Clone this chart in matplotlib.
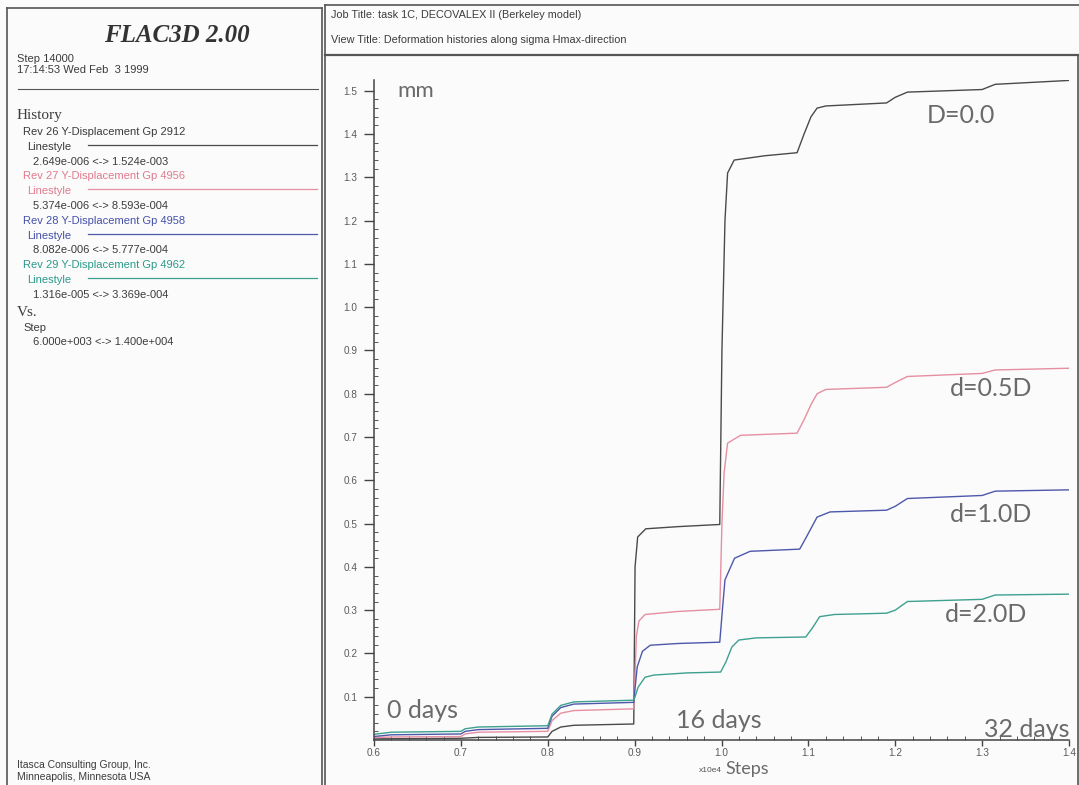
import matplotlib
matplotlib.use("Agg")
import matplotlib.pyplot as plt
from matplotlib.lines import Line2D
import numpy as np

W, H = 1079, 785

# ---------------- data (x in 1e4 steps, y in mm) ----------------
x_d00 = [0.60, 0.70, 0.72, 0.80, 0.805, 0.815, 0.83, 0.899, 0.9005, 0.9035, 0.9128, 0.95, 0.998,
         1.0005, 1.004, 1.007, 1.0146, 1.05, 1.087, 1.095, 1.103, 1.11, 1.12, 1.19, 1.20, 1.214, 1.30, 1.315, 1.40]
y_d00 = [0.0026, 0.004, 0.006, 0.007, 0.020, 0.030, 0.034, 0.037, 0.40, 0.469, 0.488, 0.493, 0.498,
         0.90, 1.20, 1.31, 1.34, 1.35, 1.357, 1.40, 1.44, 1.46, 1.465, 1.472, 1.485, 1.497, 1.503, 1.515, 1.524]

x_d05 = [0.60, 0.62, 0.70, 0.705, 0.72, 0.80, 0.805, 0.815, 0.83, 0.899, 0.9005, 0.902, 0.905, 0.912, 0.95, 0.998,
         1.0005, 1.003, 1.007, 1.022, 1.087, 1.095, 1.103, 1.11, 1.12, 1.19, 1.20, 1.214, 1.30, 1.315, 1.40]
y_d05 = [0.0054, 0.007, 0.008, 0.014, 0.018, 0.020, 0.045, 0.062, 0.068, 0.072, 0.15, 0.24, 0.275, 0.29, 0.297, 0.302,
         0.50, 0.617, 0.686, 0.704, 0.709, 0.74, 0.775, 0.80, 0.81, 0.815, 0.826, 0.84, 0.847, 0.855, 0.859]

x_d10 = [0.60, 0.62, 0.70, 0.705, 0.72, 0.80, 0.805, 0.815, 0.83, 0.899, 0.9005, 0.903, 0.909, 0.918, 0.95, 0.998,
         1.001, 1.004, 1.015, 1.033, 1.09, 1.098, 1.11, 1.125, 1.19, 1.20, 1.214, 1.30, 1.315, 1.40]
y_d10 = [0.0081, 0.012, 0.014, 0.020, 0.024, 0.027, 0.055, 0.075, 0.083, 0.087, 0.12, 0.169, 0.205, 0.219, 0.223, 0.226,
         0.30, 0.37, 0.42, 0.436, 0.441, 0.47, 0.515, 0.527, 0.531, 0.54, 0.558, 0.565, 0.575, 0.578]

x_d20 = [0.60, 0.62, 0.70, 0.705, 0.72, 0.80, 0.805, 0.815, 0.83, 0.899, 0.9005, 0.904, 0.912, 0.922, 0.96, 0.999,
         1.005, 1.012, 1.02, 1.04, 1.097, 1.105, 1.113, 1.13, 1.19, 1.20, 1.214, 1.30, 1.315, 1.40]
y_d20 = [0.0132, 0.018, 0.020, 0.026, 0.030, 0.033, 0.060, 0.080, 0.088, 0.092, 0.10, 0.122, 0.145, 0.15, 0.155, 0.157,
         0.18, 0.215, 0.231, 0.236, 0.238, 0.26, 0.285, 0.29, 0.293, 0.30, 0.32, 0.325, 0.335, 0.337]

series_x = [x_d00, x_d05, x_d10, x_d20]
series_y = [y_d00, y_d05, y_d10, y_d20]
series_colors = ["#4a4a4a", "#e68fa2", "#4d58aa", "#3ea08f"]
curve_labels = ["D=0.0", "d=0.5D", "d=1.0D", "d=2.0D"]
label_pos = [(1.276, 1.443), (1.31, 0.813), (1.31, 0.522), (1.305, 0.29)]

y_ticks = [0.1, 0.2, 0.3, 0.4, 0.5, 0.6, 0.7, 0.8, 0.9, 1.0, 1.1, 1.2, 1.3, 1.4, 1.5]
x_ticks = [0.6, 0.7, 0.8, 0.9, 1.0, 1.1, 1.2, 1.3, 1.4]

legend_titles = ["Rev 26 Y-Displacement Gp 2912", "Rev 27 Y-Displacement Gp 4956",
                 "Rev 28 Y-Displacement Gp 4958", "Rev 29 Y-Displacement Gp 4962"]
legend_ranges = ["2.649e-006 <-> 1.524e-003", "5.374e-006 <-> 8.593e-004",
                 "8.082e-006 <-> 5.777e-004", "1.316e-005 <-> 3.369e-004"]
legend_text_colors = ["#3a3a3a", "#e07a8e", "#4450a8", "#2a9a8a"]

time_labels = ["0 days", "16 days", "32 days"]
time_pos = [(0.615, 0.050, "left"), (0.948, 0.028, "left"), (1.4, 0.007, "right")]

# ---------------- figure ----------------
fig = plt.figure(figsize=(W / 100, H / 100), dpi=100)
fig.patch.set_facecolor("#fbfbfb")

def fx(px):
    return px / W

def fy(py):
    return 1 - py / H

GRAY = "#3c3c3c"
LBL = "#6a6a6a"
SANS = ["Liberation Sans", "DejaVu Sans"]
SERIF = ["Liberation Serif", "DejaVu Serif"]
GEO = ["Lato", "DejaVu Sans"]
FS = 8.0

# frames
def fline(x0, y0, x1, y1, lw=1.2, c="#555555"):
    fig.add_artist(Line2D([fx(x0), fx(x1)], [fy(y0), fy(y1)], color=c, lw=lw, transform=fig.transFigure))

fline(7, 8, 322, 8)
fline(7, 8, 7, 785)
fline(322, 8, 322, 785)
fline(325, 5, 1079, 5)
fline(325, 5, 325, 785)
fline(325, 55, 1079, 55, lw=1.6)
fline(1077.5, 55, 1077.5, 785)
fline(18, 89, 318, 89, lw=0.8)

# left panel text
fig.text(fx(177), fy(36), "FLAC3D 2.00", family=SERIF, style="italic", weight="bold",
         fontsize=18, color="#333333", ha="center", va="center")
fig.text(fx(17), fy(59), "Step 14000", family=SANS, fontsize=FS, color=GRAY, va="center")
fig.text(fx(17), fy(70), "17:14:53 Wed Feb  3 1999", family=SANS, fontsize=FS, color=GRAY, va="center")
fig.text(fx(17), fy(115), "History", family=SERIF, fontsize=11, color=GRAY, va="center")

y0 = 132
dy = 14.8
for i in range(4):
    yy = y0 + i * 3 * dy
    c = legend_text_colors[i]
    fig.text(fx(23), fy(yy), legend_titles[i], family=SANS, fontsize=FS, color=c, va="center")
    fig.text(fx(27), fy(yy + dy), "Linestyle", family=SANS, fontsize=FS, color=c, va="center")
    fline(88, yy + dy - 2, 317, yy + dy - 2, lw=0.9, c=series_colors[i])
    fig.text(fx(33), fy(yy + 2 * dy), legend_ranges[i], family=SANS, fontsize=FS, color=GRAY, va="center")

fig.text(fx(17), fy(313), "Vs.", family=SERIF, fontsize=11, color=GRAY, va="center")
fig.text(fx(23), fy(328), "Step", family=SANS, fontsize=FS, color=GRAY, va="center")
fig.text(fx(33), fy(342), "6.000e+003 <-> 1.400e+004", family=SANS, fontsize=FS, color=GRAY, va="center")

fig.text(fx(17), fy(765), "Itasca Consulting Group, Inc.", family=SANS, fontsize=7.5, color=GRAY, va="center")
fig.text(fx(17), fy(777), "Minneapolis, Minnesota USA", family=SANS, fontsize=7.5, color=GRAY, va="center")

# header text
fig.text(fx(331), fy(15), "Job Title: task 1C, DECOVALEX II (Berkeley model)", family=SANS,
         fontsize=7.8, color=GRAY, va="center")
fig.text(fx(331), fy(40), "View Title: Deformation histories along sigma Hmax-direction", family=SANS,
         fontsize=7.8, color=GRAY, va="center")

# ---------------- plot axes ----------------
ax_left, ax_right, ax_bottom, ax_top = 374, 1069, 740, 80
ax = fig.add_axes([fx(ax_left), fy(ax_bottom), fx(ax_right - ax_left), (ax_bottom - ax_top) / H])
ax.set_facecolor("none")
for sp in ["top", "right"]:
    ax.spines[sp].set_visible(False)
for sp in ["left", "bottom"]:
    ax.spines[sp].set_color("#444444")
    ax.spines[sp].set_linewidth(1.1)

for xs, ys, c in zip(series_x, series_y, series_colors):
    ax.plot(xs, ys, color=c, lw=1.0, solid_joinstyle="round")

ax.set_xlim(0.6, 1.4)
ax.set_ylim(0.0, 1.525)
ax.set_yticks(y_ticks)
ax.set_yticklabels([f"{v:.1f}" for v in y_ticks])
ax.set_xticks(x_ticks)
ax.set_xticklabels([f"{v:.1f}" for v in x_ticks])
ax.set_yticks(np.arange(0.02, 1.52, 0.02), minor=True)
ax.set_xticks(np.arange(0.62, 1.4, 0.02), minor=True)
ax.tick_params(axis="both", which="major", labelsize=7.2, labelcolor="#5a5a5a", color="#444444",
               width=1.0, direction="out")
ax.tick_params(axis="y", which="major", length=7, pad=5)
ax.tick_params(axis="x", which="major", length=4, pad=2)
ax.tick_params(axis="both", which="minor", color="#555555", length=3, width=0.7, direction="in")
for lab in ax.get_xticklabels() + ax.get_yticklabels():
    lab.set_family(SANS)

# labels
ax.text(0.627, 1.50, "mm", family=GEO, fontsize=16, color=LBL, va="center", ha="left")
for (lx, ly), t in zip(label_pos, curve_labels):
    ax.text(lx, ly, t, family=GEO, fontsize=18, color=LBL, va="center", ha="center")
for t, (tx, ty, ha) in zip(time_labels, time_pos):
    ax.text(tx, ty, t, family=GEO, fontsize=18, color=LBL, va="baseline", ha=ha)

fig.text(fx(722), fy(771), "x10e4", family=SANS, fontsize=6, color="#555555", va="center", ha="right")
fig.text(fx(725), fy(769), "Steps", family=GEO, fontsize=13, color=LBL, va="center", ha="left")

fig.savefig("out.png", dpi=100, facecolor=fig.get_facecolor())
